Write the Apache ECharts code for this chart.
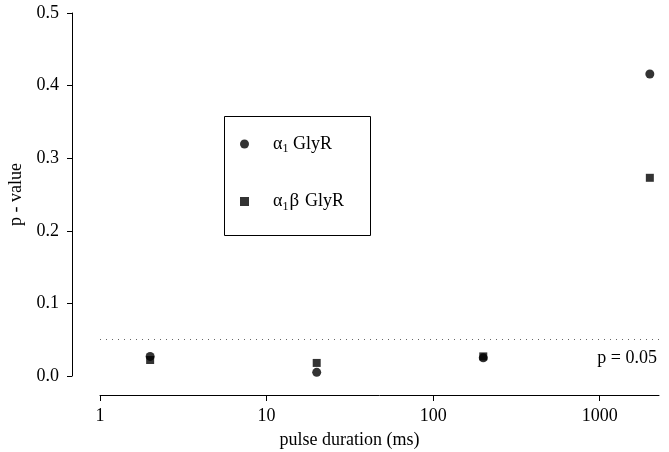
<!DOCTYPE html>
<html>
<head>
<meta charset="utf-8">
<script src="https://cdn.jsdelivr.net/npm/echarts@6/dist/echarts.min.js"></script>
<style>html,body{margin:0;padding:0;background:#fff}#c{width:669px;height:452px}</style>
</head>
<body>
<div id="c"></div>
<script>
// data
const durations = [2, 20, 200, 2000];
const alpha1 = [0.027, 0.005, 0.025, 0.416];
const alpha1beta = [0.022, 0.018, 0.027, 0.273];
const xTicks = [1, 10, 100, 1000];
const yTicks = [0, 0.1, 0.2, 0.3, 0.4, 0.5];
const threshold = 0.05;
const seriesNames = ['α1 GlyR', 'α1β GlyR'];

const FONT = 'Liberation Serif';
const chart = echarts.init(document.getElementById('c'));
const rich = {
  t: {fontFamily: FONT, fontSize: 18, color: '#000'},
  b: {fontFamily: FONT, fontSize: 19, color: '#000', padding: [0, 6, 0, 1]},
  s: {fontFamily: FONT, fontSize: 12, color: '#000', padding: [10, 0, 0, 0]}
};
chart.setOption({
  animation: false,
  backgroundColor: '#fff',
  grid: {left: 100, right: 10, top: 13, bottom: 76, outerBoundsMode: 'none', containLabel: false},
  xAxis: {
    type: 'log', logBase: 10, min: 1, max: 2270, offset: 19,
    name: 'pulse duration (ms)', nameLocation: 'middle', nameGap: 36,
    nameTextStyle: {fontFamily: FONT, fontSize: 18, color: '#000', padding: [0, 60, 0, 0]},
    axisLine: {onZero: false, lineStyle: {color: '#000', width: 1}},
    axisTick: {length: 6, lineStyle: {color: '#000'}, customValues: xTicks},
    axisLabel: {fontFamily: FONT, fontSize: 18, color: '#000', margin: 12, customValues: xTicks,
      formatter: v => String(Math.round(v))},
    splitLine: {show: false}, minorTick: {show: false}
  },
  yAxis: {
    type: 'value', min: 0, max: 0.5, interval: 0.1, offset: 28,
    name: 'p - value', nameLocation: 'middle', nameGap: 41, nameRotate: 90,
    nameTextStyle: {fontFamily: FONT, fontSize: 18, color: '#000'},
    axisLine: {show: true, onZero: false, lineStyle: {color: '#000', width: 1}},
    axisTick: {show: true, length: 5, lineStyle: {color: '#000'}, customValues: yTicks},
    axisLabel: {fontFamily: FONT, fontSize: 18, color: '#000', margin: 13,
      customValues: yTicks, formatter: v => v.toFixed(1)},
    splitLine: {show: false}
  },
  legend: {
    orient: 'vertical', left: 235, top: 130, itemGap: 37,
    itemWidth: 9, itemHeight: 9,
    data: [{name: seriesNames[0], icon: 'circle'}, {name: seriesNames[1], icon: 'rect'}],
    formatter: n => n === seriesNames[0] ? '{t|α}{s|1}{t| GlyR}' : '{t|α}{s|1}{b|β}{t|GlyR}',
    textStyle: {fontFamily: FONT, fontSize: 18, color: '#000', padding: [0, 0, 0, 19], rich: rich}
  },
  graphic: [{
    type: 'rect', left: 222, top: 114, shape: {width: 146, height: 119},
    style: {fill: 'none', stroke: '#000', lineWidth: 1}, z: 10
  }],
  series: [
    {
      name: seriesNames[0], type: 'scatter', symbol: 'circle', symbolSize: 9,
      itemStyle: {color: '#000'},
      data: durations.map((d, i) => [d, alpha1[i]]),
      markLine: {
        silent: true, symbol: 'none',
        lineStyle: {type: [1, 5], color: '#666', width: 1},
        label: {show: true, position: 'insideEndBottom', formatter: 'p = 0.05',
          fontFamily: FONT, fontSize: 18, color: '#000', distance: [2, 10]},
        data: [{yAxis: threshold}]
      }
    },
    {
      name: seriesNames[1], type: 'scatter', symbol: 'rect', symbolSize: 8,
      itemStyle: {color: '#000'},
      data: durations.map((d, i) => [d, alpha1beta[i]])
    }
  ]
});
</script>
</body>
</html>
